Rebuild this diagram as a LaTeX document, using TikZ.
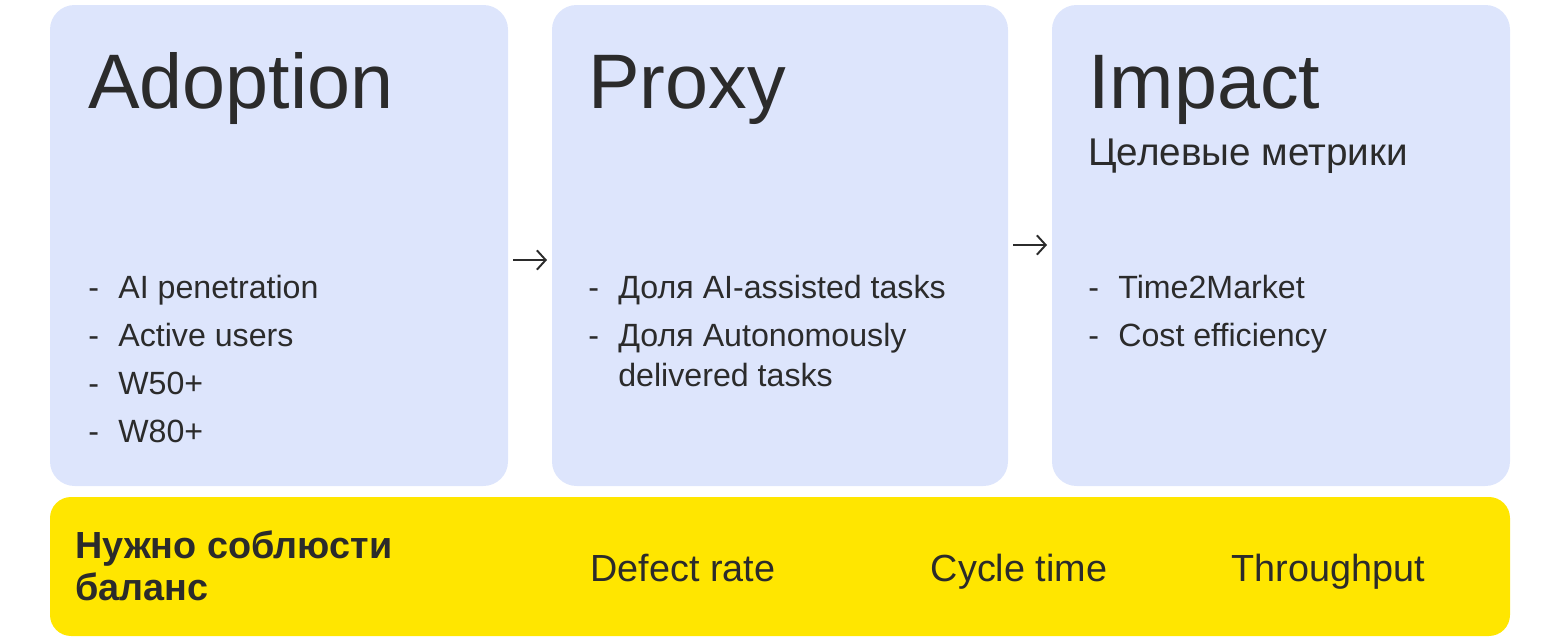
\documentclass[tikz,border=0pt]{standalone}
\usepackage{fontspec}
\setmainfont{Liberation Sans}
\usetikzlibrary{positioning,arrows.meta}
\definecolor{cardblue}{HTML}{DDE5FC}
\definecolor{baryellow}{HTML}{FFE600}
\definecolor{inkgray}{HTML}{2B2B2B}
\tikzset{
  bigtitle/.style={anchor=base west, inner sep=0pt, text=inkgray, font=\fontsize{44}{50}\selectfont},
  subtitle/.style={anchor=base west, inner sep=0pt, text=inkgray, font=\fontsize{22}{26}\selectfont},
  item/.style={anchor=base west, inner sep=0pt, text=inkgray, font=\fontsize{18.3}{22}\selectfont},
  bartext/.style={anchor=base, inner sep=0pt, text=inkgray, font=\fontsize{21.5}{25}\selectfont},
  flow/.style={-{Straight Barb[length=5pt,width=11pt]}, line width=1.1pt, inkgray}
}
\begin{document}
\begin{tikzpicture}[x=0.02cm, y=-0.02cm]
  \useasboundingbox (0,0) rectangle (1560,643);

  % Cards
  \fill[cardblue, rounded corners=14pt] (50,5) rectangle (508,486);
  \fill[cardblue, rounded corners=14pt] (552,5) rectangle (1008,486);
  \fill[cardblue, rounded corners=14pt] (1052,5) rectangle (1510,486);
  \fill[baryellow, rounded corners=12pt] (50,497) rectangle (1510,636);

  % Titles
  \node[bigtitle] (adopt) at (88,108) {Adoption};
  \node[bigtitle] (proxy) at (588,108) {Proxy};
  \node[bigtitle] (impact) at (1088,108) {Impact};
  \node[subtitle] (target) at (1088,165) {Целевые метрики};

  % Lists
  \foreach \t [count=\i] in {AI penetration, Active users, W50+, W80+} {
    \node[item] at (88,{250+48*\i}) {-};
    \node[item] at (118,{250+48*\i}) {\t};
  }
  \node[item] at (588,298) {-};
  \node[item] at (618,298) {Доля AI-assisted tasks};
  \node[item] at (588,346) {-};
  \node[item] at (618,346) {Доля Autonomously};
  \node[item] at (618,386) {delivered tasks};
  \foreach \t [count=\i] in {Time2Market, Cost efficiency} {
    \node[item] at (1088,{250+48*\i}) {-};
    \node[item] at (1118,{250+48*\i}) {\t};
  }

  % Arrows
  \coordinate (a1) at (513,260);
  \coordinate (b1) at (547,260);
  \coordinate (a2) at (1013,245);
  \coordinate (b2) at (1047,245);
  \draw[flow] (a1) -- (b1);
  \draw[flow] (a2) -- (b2);

  % Balance bar
  \node[anchor=base west, inner sep=0pt, text=inkgray,
        font=\fontsize{21.5}{25}\selectfont\bfseries] (balance1) at (75,558) {Нужно соблюсти};
  \node[anchor=base west, inner sep=0pt, text=inkgray,
        font=\fontsize{21.5}{25}\selectfont\bfseries] (balance2) at (75,600) {баланс};
  \node[bartext] (defect) at (683,581) {Defect rate};
  \node[bartext] (cycle) at (1019,581) {Cycle time};
  \node[bartext] (thru) at (1328,581) {Throughput};
\end{tikzpicture}
\end{document}
